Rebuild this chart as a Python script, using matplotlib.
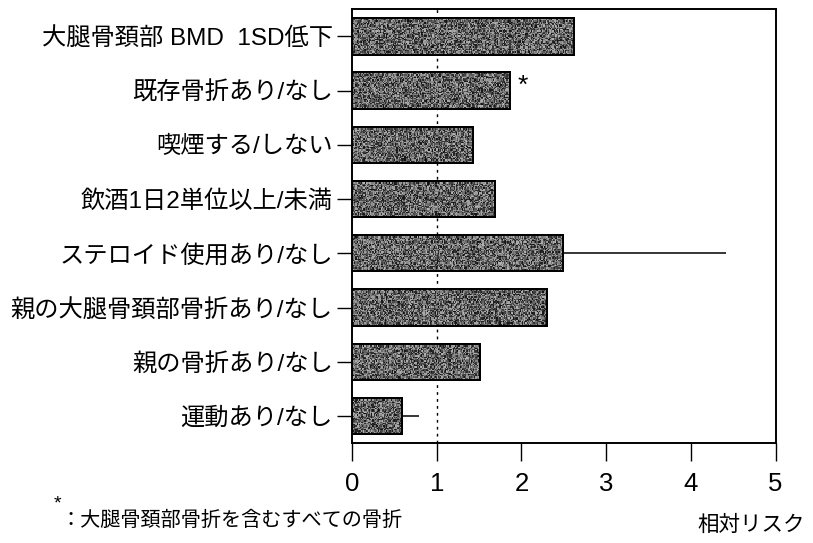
import numpy as np
import matplotlib
matplotlib.use("Agg")
import matplotlib.pyplot as plt

plt.rcParams['font.family'] = ['Liberation Sans', 'Noto Sans CJK JP', 'DejaVu Sans']

# 危険因子と相対リスク
factors = ['大腿骨頚部 BMD  1SD低下', '既存骨折あり/なし', '喫煙する/しない', '飲酒1日2単位以上/未満',
           'ステロイド使用あり/なし', '親の大腿骨頚部骨折あり/なし', '親の骨折あり/なし', '運動あり/なし']
rr = [2.62, 1.87, 1.43, 1.69, 2.49, 2.30, 1.51, 0.59]
# 信頼区間の上限（棒の外に出るもののみ）
ci_upper = [None, None, None, None, 4.41, None, None, 0.79]
xticks = [0, 1, 2, 3, 4, 5]

fig = plt.figure(figsize=(8.13, 5.43), dpi=100)
ax = fig.add_axes([0.433, 0.184, 0.521, 0.799])

ypos = np.arange(len(factors))
bars = ax.barh(ypos, rr, height=0.67, color='#606060', edgecolor='black', linewidth=1.4, zorder=2)

# ざらついた網点風のテクスチャ
rng = np.random.default_rng(3)
for b in bars:
    x0, y0 = b.get_x(), b.get_y()
    w, h = b.get_width(), b.get_height()
    tex = rng.random((30, max(4, int(w * 75))))
    im = ax.imshow(tex, cmap='gray', vmin=-0.1, vmax=1.45, interpolation='nearest',
                   extent=[x0, x0 + w, y0, y0 + h], aspect='auto', zorder=2.5)
    im.set_clip_path(b)
    ax.add_patch(plt.Rectangle((x0, y0), w, h, fill=False, edgecolor='black', linewidth=1.4, zorder=3))

for i, (v, up) in enumerate(zip(rr, ci_upper)):
    if up is not None:
        ax.errorbar(v, i, xerr=[[0], [up - v]], fmt='none', ecolor='black', elinewidth=1.1, capsize=0, zorder=1)

ax.axvline(1, color='black', linestyle=(0, (2, 3)), linewidth=1.0, zorder=1)

ax.text(rr[1] + 0.08, 0.92, '*', fontsize=19, ha='left', va='center')

ax.set_xlim(0, 5)
ax.set_ylim(len(factors) - 0.5, -0.5)
ax.set_xticks(xticks)
ax.set_xticklabels([str(t) for t in xticks], fontsize=18.5)
ax.set_yticks(ypos)
ax.set_yticklabels(factors, fontsize=17.5)
ax.tick_params(axis='x', direction='out', length=13, width=1, pad=8)
ax.tick_params(axis='y', direction='out', length=11, width=1, pad=3)
for s in ax.spines.values():
    s.set_linewidth(1.4)

fig.text(0.066, 0.072, '*', fontsize=14, ha='left', va='center')
fig.text(0.074, 0.042, '：大腿骨頚部骨折を含むすべての骨折', fontsize=14.5, ha='left', va='center')
fig.text(0.99, 0.033, '相対リスク', fontsize=15.5, ha='right', va='center')

fig.savefig('out.png', dpi=100)
